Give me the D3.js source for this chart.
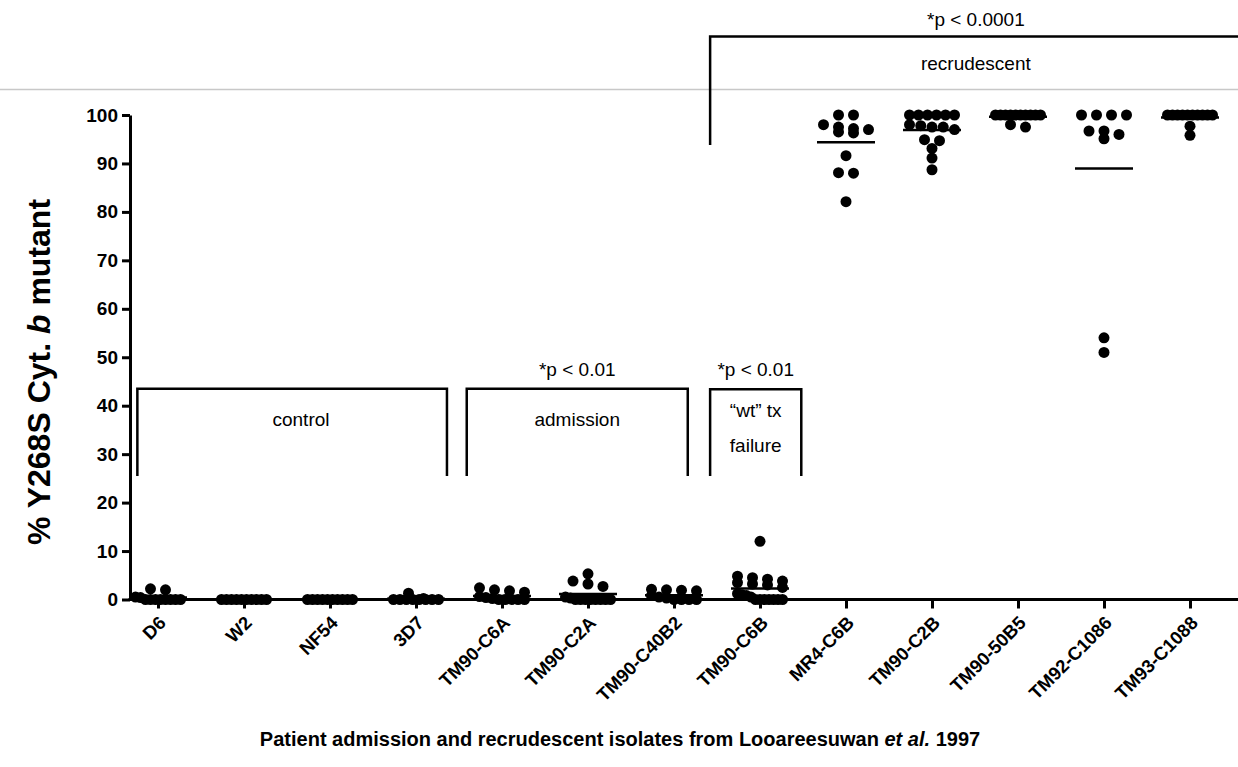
<!DOCTYPE html>
<html>
<head>
<meta charset="utf-8">
<script src="https://cdn.jsdelivr.net/npm/d3@7"></script>
<style>
  body { margin: 0; background: #fff; }
  text { font-family: "Liberation Sans", Arial, sans-serif; }
</style>
</head>
<body>
<div id="chart"></div>
<script>
// isolates on the x axis
var categories = ["D6", "W2", "NF54", "3D7", "TM90-C6A", "TM90-C2A", "TM90-C40B2",
                  "TM90-C6B", "MR4-C6B", "TM90-C2B", "TM90-50B5", "TM92-C1086", "TM93-C1088"]

// % mutant per clone
var d6Values       = [2.2, 2.0, 0.5, 0.4, 0, 0, 0, 0, 0, 0, 0, 0]
var w2Values       = [0, 0, 0, 0, 0, 0, 0, 0, 0, 0]
var nf54Values     = [0, 0, 0, 0, 0, 0, 0, 0, 0, 0]
var d37Values      = [1.3, 0.2, 0, 0, 0, 0, 0, 0, 0, 0]
var c6aValues      = [2.4, 2.0, 1.8, 1.5, 0.6, 0.4, 0.2, 0, 0, 0, 0, 0]
var c2aValues      = [5.3, 3.8, 3.2, 2.7, 0.5, 0.3, 0, 0, 0, 0, 0, 0, 0, 0]
var c40b2Values    = [2.1, 1.9, 2.0, 1.8, 0.8, 0.5, 0.3, 0, 0, 0, 0]
var c6bValues      = [12, 4.8, 4.5, 4.2, 3.8, 3.5, 3.2, 3.0, 2.5, 1.2, 1.0, 0.8, 0.5, 0, 0, 0, 0, 0, 0, 0]
var mr4Values      = [100, 100, 98, 97.5, 97.2, 97, 96.5, 96.3, 91.6, 88.1, 88, 82.1]
var c2bValues      = [100, 100, 100, 100, 100, 100, 98, 97.8, 97.5, 97.5, 97, 94.9, 94.7, 93.1, 91.1, 88.7]
var b5Values       = [100, 100, 100, 100, 100, 100, 100, 100, 100, 100, 98, 97.5]
var c1086Values    = [100, 100, 100, 100, 96.7, 96, 95.1, 96.7, 54, 51]
var c1088Values    = [100, 100, 100, 100, 100, 100, 100, 100, 100, 100, 97.7, 95.8]

var seriesValues = [d6Values, w2Values, nf54Values, d37Values, c6aValues, c2aValues, c40b2Values,
                    c6bValues, mr4Values, c2bValues, b5Values, c1086Values, c1088Values]

var yTicks = [0, 10, 20, 30, 40, 50, 60, 70, 80, 90, 100]

// group brackets: x in category index units, y in % units
var groupNames   = ["control", "admission", "“wt” tx|failure", "recrudescent"]
var groupPLabels = ["", "*p < 0.01", "*p < 0.01", "*p < 0.0001"]
var groupFrom    = [-0.24, 3.59, 6.42, 6.42]
var groupTo      = [3.36, 6.16, 7.48, 12.6]
var groupTop     = [43.5, 43.5, 43.4, 116.2]
var groupBottom  = [25.5, 25.5, 25.5, 93.8]

var width = 1238
    height = 767
    margin = {left: 130}

var svg = d3.select("#chart")
  .append("svg")
    .attr("width", width)
    .attr("height", height)

var y = d3.scaleLinear()
  .domain([0, 100])
  .range([599.5, 115])

var x = d3.scalePoint()
  .domain(categories)
  .range([158, 1190])

// fractional category positions for brackets
var xi = d3.scaleLinear()
  .domain([0, categories.length - 1])
  .range([158, 1190])

// thin grey rule across the top
svg.append("line")
  .attr("x1", 0).attr("x2", width)
  .attr("y1", 89.5).attr("y2", 89.5)
  .attr("stroke", "#c8c8c8")
  .attr("stroke-width", 1.5)

// y axis
var yAxis = svg.append("g")
  .attr("transform", "translate(" + margin.left + ",0)")
  .call(d3.axisLeft(y).tickValues(yTicks).tickSize(8).tickSizeOuter(0).tickPadding(4))
yAxis.select(".domain").attr("stroke-width", 3)
yAxis.selectAll(".tick line").attr("stroke-width", 3)
yAxis.selectAll("text")
  .style("font-size", "19px")
  .style("font-weight", "bold")
  .attr("fill", "#000")

// x axis
svg.append("line")
  .attr("x1", margin.left - 1.5).attr("x2", width)
  .attr("y1", y(0)).attr("y2", y(0))
  .attr("stroke", "#000")
  .attr("stroke-width", 3)

var xAxis = svg.append("g")
  .attr("transform", "translate(0," + y(0) + ")")
  .call(d3.axisBottom(x).tickSize(9).tickSizeOuter(0))
xAxis.select(".domain").remove()
xAxis.selectAll(".tick line").attr("stroke-width", 3)
xAxis.selectAll("text")
  .attr("x", 0)
  .attr("y", 0)
  .attr("dy", "0.35em")
  .attr("transform", "translate(4,20) rotate(-45)")
  .style("text-anchor", "end")
  .style("font-size", "18.5px")
  .style("font-weight", "bold")
  .attr("fill", "#000")

// dot layout: points close in y share a row, spread around the category centre
var radius = 5.5
var rowTol = 6
var rowWidth = 56
var maxStep = 15

function layout(values, cx) {
  var sorted = values.slice().sort(function(a, b) { return b - a })
  var rows = [], cur = null
  sorted.forEach(function(v) {
    var py = y(v)
    if (cur && py - cur.y0 < rowTol) cur.pts.push(v)
    else { cur = {y0: py, pts: [v]}; rows.push(cur) }
  })
  var out = []
  rows.forEach(function(r) {
    var n = r.pts.length
    var step = n > 1 ? Math.min(maxStep, (rowWidth - 2 * radius) / (n - 1)) : 0
    r.pts.forEach(function(v, j) {
      out.push({cx: cx + (j - (n - 1) / 2) * step, cy: y(v)})
    })
  })
  return out
}

categories.forEach(function(cat, i) {
  var vals = seriesValues[i]
  var g = svg.append("g")

  g.selectAll("circle")
    .data(layout(vals, x(cat)))
    .enter()
    .append("circle")
      .attr("cx", function(d) { return d.cx })
      .attr("cy", function(d) { return d.cy })
      .attr("r", radius)
      .attr("fill", "#000")

  // mean line
  var m = d3.mean(vals)
  g.append("line")
    .attr("x1", x(cat) - 29).attr("x2", x(cat) + 29)
    .attr("y1", y(m)).attr("y2", y(m))
    .attr("stroke", "#000")
    .attr("stroke-width", 2.5)
})

// brackets and their labels
groupNames.forEach(function(name, i) {
  var x0 = xi(groupFrom[i]), x1 = xi(groupTo[i])
  var yt = y(groupTop[i]), yb = y(groupBottom[i])
  svg.append("path")
    .attr("d", "M" + x0 + "," + yb + "V" + yt + "H" + x1 + "V" + yb)
    .attr("fill", "none")
    .attr("stroke", "#000")
    .attr("stroke-width", 2.5)

  var cx = (x0 + x1) / 2
  var lines = name.split("|")
  var t = svg.append("text")
    .attr("text-anchor", "middle")
    .style("font-size", "19px")
    .attr("fill", "#000")
  lines.forEach(function(l, k) {
    t.append("tspan")
      .attr("x", i == 0 ? 301 : cx)
      .attr("y", (lines.length > 1 ? yt + 28 : yt + (i == 3 ? 33 : 37)) + k * 35)
      .text(l)
  })

  if (groupPLabels[i]) {
    svg.append("text")
      .attr("x", cx)
      .attr("y", yt - (i == 3 ? 11 : 13))
      .attr("text-anchor", "middle")
      .style("font-size", "19px")
      .attr("fill", "#000")
      .text(groupPLabels[i])
  }
})

// axis titles
var yTitle = svg.append("text")
  .attr("transform", "translate(50,372) rotate(-90)")
  .attr("text-anchor", "middle")
  .style("font-size", "32px")
  .style("font-weight", "bold")
yTitle.append("tspan").text("% Y268S Cyt. ")
yTitle.append("tspan").style("font-style", "italic").text("b")
yTitle.append("tspan").text(" mutant")

var xTitle = svg.append("text")
  .attr("x", 620)
  .attr("y", 746)
  .attr("text-anchor", "middle")
  .style("font-size", "20px")
  .style("font-weight", "bold")
xTitle.append("tspan").text("Patient admission and recrudescent isolates from Looareesuwan ")
xTitle.append("tspan").style("font-style", "italic").text("et al.")
xTitle.append("tspan").text(" 1997")
</script>
</body>
</html>
